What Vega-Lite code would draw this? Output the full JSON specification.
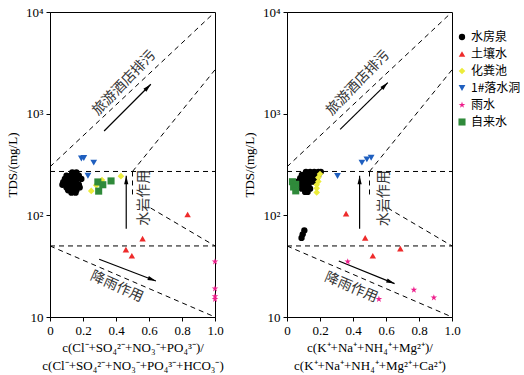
{
  "$schema": "https://vega.github.io/schema/vega-lite/v6.json",
  "padding": 5,
  "background": "white",
  "datasets": {
    "pts": [
      {"p": "L", "t": "水房泉", "x": 0.135, "y": 265}, {"p": "L", "t": "水房泉", "x": 0.16, "y": 265},
      {"p": "L", "t": "水房泉", "x": 0.10, "y": 245}, {"p": "L", "t": "水房泉", "x": 0.125, "y": 245}, {"p": "L", "t": "水房泉", "x": 0.15, "y": 245}, {"p": "L", "t": "水房泉", "x": 0.175, "y": 245},
      {"p": "L", "t": "水房泉", "x": 0.09, "y": 228}, {"p": "L", "t": "水房泉", "x": 0.115, "y": 228}, {"p": "L", "t": "水房泉", "x": 0.14, "y": 228}, {"p": "L", "t": "水房泉", "x": 0.165, "y": 228}, {"p": "L", "t": "水房泉", "x": 0.19, "y": 228},
      {"p": "L", "t": "水房泉", "x": 0.08, "y": 212}, {"p": "L", "t": "水房泉", "x": 0.105, "y": 212}, {"p": "L", "t": "水房泉", "x": 0.13, "y": 212}, {"p": "L", "t": "水房泉", "x": 0.155, "y": 212},
      {"p": "L", "t": "水房泉", "x": 0.075, "y": 200}, {"p": "L", "t": "水房泉", "x": 0.10, "y": 200}, {"p": "L", "t": "水房泉", "x": 0.125, "y": 200}, {"p": "L", "t": "水房泉", "x": 0.15, "y": 200}, {"p": "L", "t": "水房泉", "x": 0.175, "y": 200},
      {"p": "L", "t": "水房泉", "x": 0.10, "y": 188}, {"p": "L", "t": "水房泉", "x": 0.125, "y": 188}, {"p": "L", "t": "水房泉", "x": 0.15, "y": 188}, {"p": "L", "t": "水房泉", "x": 0.18, "y": 188},
      {"p": "L", "t": "水房泉", "x": 0.11, "y": 176}, {"p": "L", "t": "水房泉", "x": 0.135, "y": 176}, {"p": "L", "t": "水房泉", "x": 0.16, "y": 176},
      {"p": "L", "t": "水房泉", "x": 0.13, "y": 167}, {"p": "L", "t": "水房泉", "x": 0.155, "y": 167},
      {"p": "L", "t": "土壤水", "x": 0.834, "y": 102}, {"p": "L", "t": "土壤水", "x": 0.561, "y": 59}, {"p": "L", "t": "土壤水", "x": 0.46, "y": 46}, {"p": "L", "t": "土壤水", "x": 0.496, "y": 40},
      {"p": "L", "t": "化粪池", "x": 0.43, "y": 243}, {"p": "L", "t": "化粪池", "x": 0.315, "y": 222}, {"p": "L", "t": "化粪池", "x": 0.29, "y": 205}, {"p": "L", "t": "化粪池", "x": 0.28, "y": 198}, {"p": "L", "t": "化粪池", "x": 0.25, "y": 174},
      {"p": "L", "t": "1#落水洞", "x": 0.19, "y": 362}, {"p": "L", "t": "1#落水洞", "x": 0.205, "y": 366}, {"p": "L", "t": "1#落水洞", "x": 0.265, "y": 330}, {"p": "L", "t": "1#落水洞", "x": 0.23, "y": 245},
      {"p": "L", "t": "雨水", "x": 1.0, "y": 35}, {"p": "L", "t": "雨水", "x": 1.0, "y": 19}, {"p": "L", "t": "雨水", "x": 1.0, "y": 16}, {"p": "L", "t": "雨水", "x": 1.0, "y": 15},
      {"p": "L", "t": "自来水", "x": 0.29, "y": 213}, {"p": "L", "t": "自来水", "x": 0.32, "y": 200}, {"p": "L", "t": "自来水", "x": 0.37, "y": 218}, {"p": "L", "t": "自来水", "x": 0.295, "y": 173},
      {"p": "R", "t": "水房泉", "x": 0.115, "y": 268}, {"p": "R", "t": "水房泉", "x": 0.14, "y": 268}, {"p": "R", "t": "水房泉", "x": 0.165, "y": 268}, {"p": "R", "t": "水房泉", "x": 0.19, "y": 268}, {"p": "R", "t": "水房泉", "x": 0.205, "y": 268},
      {"p": "R", "t": "水房泉", "x": 0.09, "y": 250}, {"p": "R", "t": "水房泉", "x": 0.115, "y": 250}, {"p": "R", "t": "水房泉", "x": 0.14, "y": 250}, {"p": "R", "t": "水房泉", "x": 0.165, "y": 250}, {"p": "R", "t": "水房泉", "x": 0.19, "y": 250},
      {"p": "R", "t": "水房泉", "x": 0.08, "y": 232}, {"p": "R", "t": "水房泉", "x": 0.105, "y": 232}, {"p": "R", "t": "水房泉", "x": 0.13, "y": 232}, {"p": "R", "t": "水房泉", "x": 0.155, "y": 232}, {"p": "R", "t": "水房泉", "x": 0.18, "y": 232},
      {"p": "R", "t": "水房泉", "x": 0.065, "y": 214}, {"p": "R", "t": "水房泉", "x": 0.09, "y": 214}, {"p": "R", "t": "水房泉", "x": 0.115, "y": 214}, {"p": "R", "t": "水房泉", "x": 0.14, "y": 214}, {"p": "R", "t": "水房泉", "x": 0.16, "y": 214},
      {"p": "R", "t": "水房泉", "x": 0.08, "y": 197}, {"p": "R", "t": "水房泉", "x": 0.105, "y": 197}, {"p": "R", "t": "水房泉", "x": 0.13, "y": 197},
      {"p": "R", "t": "水房泉", "x": 0.09, "y": 183}, {"p": "R", "t": "水房泉", "x": 0.115, "y": 183}, {"p": "R", "t": "水房泉", "x": 0.14, "y": 183},
      {"p": "R", "t": "水房泉", "x": 0.11, "y": 170}, {"p": "R", "t": "水房泉", "x": 0.125, "y": 170},
      {"p": "R", "t": "水房泉", "x": 0.105, "y": 71}, {"p": "R", "t": "水房泉", "x": 0.095, "y": 65}, {"p": "R", "t": "水房泉", "x": 0.088, "y": 60},
      {"p": "R", "t": "土壤水", "x": 0.358, "y": 104}, {"p": "R", "t": "土壤水", "x": 0.474, "y": 60}, {"p": "R", "t": "土壤水", "x": 0.52, "y": 40}, {"p": "R", "t": "土壤水", "x": 0.687, "y": 47},
      {"p": "R", "t": "化粪池", "x": 0.2, "y": 255}, {"p": "R", "t": "化粪池", "x": 0.19, "y": 235}, {"p": "R", "t": "化粪池", "x": 0.19, "y": 215}, {"p": "R", "t": "化粪池", "x": 0.18, "y": 200}, {"p": "R", "t": "化粪池", "x": 0.18, "y": 185}, {"p": "R", "t": "化粪池", "x": 0.18, "y": 168},
      {"p": "R", "t": "1#落水洞", "x": 0.306, "y": 244}, {"p": "R", "t": "1#落水洞", "x": 0.454, "y": 330}, {"p": "R", "t": "1#落水洞", "x": 0.484, "y": 355}, {"p": "R", "t": "1#落水洞", "x": 0.51, "y": 368},
      {"p": "R", "t": "雨水", "x": 0.368, "y": 35}, {"p": "R", "t": "雨水", "x": 0.557, "y": 15}, {"p": "R", "t": "雨水", "x": 0.769, "y": 18.5}, {"p": "R", "t": "雨水", "x": 0.89, "y": 15.5},
      {"p": "R", "t": "自来水", "x": 0.033, "y": 214}, {"p": "R", "t": "自来水", "x": 0.053, "y": 202}, {"p": "R", "t": "自来水", "x": 0.04, "y": 190}, {"p": "R", "t": "自来水", "x": 0.053, "y": 174}
    ],
    "lines": [
      {"s": "A", "x": 0, "y": 300}, {"s": "A", "x": 1, "y": 10000},
      {"s": "B", "x": 0.5, "y": 270}, {"s": "B", "x": 1, "y": 2700},
      {"s": "H1", "x": 0, "y": 270}, {"s": "H1", "x": 1, "y": 270},
      {"s": "H2", "x": 0, "y": 50}, {"s": "H2", "x": 1, "y": 50},
      {"s": "V", "x": 0.5, "y": 270}, {"s": "V", "x": 0.5, "y": 150},
      {"s": "D", "x": 0.61, "y": 118}, {"s": "D", "x": 1, "y": 50},
      {"s": "L", "x": 0, "y": 50}, {"s": "L", "x": 1, "y": 10}
    ],
    "arrows": [
      {"p": "L", "a": "a1", "x": 0.328, "y": 676}, {"p": "L", "a": "a1", "x": 0.611, "y": 1946},
      {"p": "L", "a": "a2", "x": 0.462, "y": 74}, {"p": "L", "a": "a2", "x": 0.462, "y": 245},
      {"p": "L", "a": "a3", "x": 0.298, "y": 37}, {"p": "L", "a": "a3", "x": 0.642, "y": 22.6},
      {"p": "R", "a": "a1", "x": 0.322, "y": 700}, {"p": "R", "a": "a1", "x": 0.611, "y": 2020},
      {"p": "R", "a": "a2", "x": 0.44, "y": 74}, {"p": "R", "a": "a2", "x": 0.44, "y": 245},
      {"p": "R", "a": "a3", "x": 0.314, "y": 35.6}, {"p": "R", "a": "a3", "x": 0.652, "y": 21.3}
    ],
    "heads": [
      {"p": "L", "x": 0.611, "y": 1946, "ang": 45}, {"p": "L", "x": 0.462, "y": 245, "ang": 0}, {"p": "L", "x": 0.642, "y": 22.6, "ang": 111},
      {"p": "R", "x": 0.611, "y": 2020, "ang": 45}, {"p": "R", "x": 0.44, "y": 245, "ang": 0}, {"p": "R", "x": 0.652, "y": 21.3, "ang": 112}
    ],
    "labels": [
      {"p": "L", "txt": "旅游酒店排污", "x": 0.45, "y": 2000, "ang": -46},
      {"p": "L", "txt": "水岩作用", "x": 0.568, "y": 149, "ang": -90},
      {"p": "L", "txt": "降雨作用", "x": 0.405, "y": 19.8, "ang": 24},
      {"p": "R", "txt": "旅游酒店排污", "x": 0.43, "y": 2000, "ang": -46},
      {"p": "R", "txt": "水岩作用", "x": 0.586, "y": 147, "ang": -90},
      {"p": "R", "txt": "降雨作用", "x": 0.389, "y": 19.5, "ang": 23}
    ]
  },
  "hconcat": [
    {
      "width": 165, "height": 305,
      "encoding": {
        "x": {"field": "x", "type": "quantitative", "scale": {"domain": [0, 1], "nice": false},
          "axis": {"values": [0, 0.2, 0.4, 0.6, 0.8, 1], "labelOverlap": false, "labelFlush": false, "format": ".1f", "labelExpr": "datum.label == '0.0' ? '0' : datum.label", "title": ["c(Cl⁻+SO₄²⁻+NO₃⁻+PO₄³⁻)/", "c(Cl⁻+SO₄²⁻+NO₃⁻+PO₄³⁻+HCO₃⁻)"]}},
        "y": {"field": "y", "type": "quantitative", "scale": {"type": "log", "domain": [10, 10000], "nice": false},
          "axis": {"values": [10, 100, 1000, 10000], "labelOverlap": false, "labelExpr": "datum.value == 10 ? '10' : datum.value == 100 ? '10²' : datum.value == 1000 ? '10³' : '10⁴'", "title": "TDS/(mg/L)"}}
      },
      "layer": [
        {"data": {"name": "lines"}, "mark": {"type": "line", "color": "black", "strokeWidth": 1, "strokeDash": [5, 4], "clip": true},
         "encoding": {"detail": {"field": "s"}}},
        {"data": {"name": "arrows"}, "transform": [{"filter": "datum.p == 'L'"}], "mark": {"type": "line", "color": "black", "strokeWidth": 1.2},
         "encoding": {"detail": {"field": "a"}}},
        {"data": {"name": "heads"}, "transform": [{"filter": "datum.p == 'L'"}], "mark": {"type": "point", "filled": true, "color": "black", "size": 70, "shape": "M0,0L0.5,2L-0.5,2Z", "opacity": 1},
         "encoding": {"angle": {"field": "ang", "type": "quantitative", "scale": null}}},
        {"data": {"name": "labels"}, "transform": [{"filter": "datum.p == 'L'"}], "mark": {"type": "text", "font": "Noto Sans CJK SC", "fontSize": 14, "color": "#333"},
         "encoding": {"text": {"field": "txt"}, "angle": {"field": "ang", "type": "quantitative", "scale": null}}},
        {"data": {"name": "pts"}, "transform": [{"filter": "datum.p == 'L'"}], "mark": {"type": "point", "filled": true, "opacity": 1, "clip": false},
         "encoding": {
           "color": {"field": "t", "type": "nominal", "scale": {"domain": ["水房泉", "土壤水", "化粪池", "1#落水洞", "雨水", "自来水"], "range": ["#000000", "#ee2b2b", "#ecec3a", "#1f5fbf", "#ee1f8c", "#2f8a3a"]}, "legend": {"title": null}},
           "size": {"field": "t", "type": "nominal", "scale": {"domain": ["水房泉", "土壤水", "化粪池", "1#落水洞", "雨水", "自来水"], "range": [40, 50, 45, 50, 75, 40]}, "legend": null},
           "shape": {"field": "t", "type": "nominal", "scale": {"domain": ["水房泉", "土壤水", "化粪池", "1#落水洞", "雨水", "自来水"], "range": ["circle", "triangle-up", "diamond", "triangle-down", "M0,-1L0.2245,-0.309L0.951,-0.309L0.363,0.118L0.588,0.809L0,0.382L-0.588,0.809L-0.363,0.118L-0.951,-0.309L-0.2245,-0.309Z", "square"]}, "legend": {"title": null}}}}
      ]
    },
    {
      "width": 165, "height": 305,
      "encoding": {
        "x": {"field": "x", "type": "quantitative", "scale": {"domain": [0, 1], "nice": false},
          "axis": {"tickCount": 5, "labelOverlap": false, "labelFlush": false, "format": ".1f", "labelExpr": "datum.label == '0.0' ? '0' : datum.label", "title": ["c(K⁺+Na⁺+NH₄⁺+Mg²⁺)/", "c(K⁺+Na⁺+NH₄⁺+Mg²⁺+Ca²⁺)"]}},
        "y": {"field": "y", "type": "quantitative", "scale": {"type": "log", "domain": [10, 10000], "nice": false},
          "axis": {"values": [10, 100, 1000, 10000], "labelOverlap": false, "labelExpr": "datum.value == 10 ? '10' : datum.value == 100 ? '10²' : datum.value == 1000 ? '10³' : '10⁴'", "title": "TDS/(mg/L)"}}
      },
      "layer": [
        {"data": {"name": "lines"}, "mark": {"type": "line", "color": "black", "strokeWidth": 1, "strokeDash": [5, 4], "clip": true},
         "encoding": {"detail": {"field": "s"}}},
        {"data": {"name": "arrows"}, "transform": [{"filter": "datum.p == 'R'"}], "mark": {"type": "line", "color": "black", "strokeWidth": 1.2},
         "encoding": {"detail": {"field": "a"}}},
        {"data": {"name": "heads"}, "transform": [{"filter": "datum.p == 'R'"}], "mark": {"type": "point", "filled": true, "color": "black", "size": 70, "shape": "M0,0L0.5,2L-0.5,2Z", "opacity": 1},
         "encoding": {"angle": {"field": "ang", "type": "quantitative", "scale": null}}},
        {"data": {"name": "labels"}, "transform": [{"filter": "datum.p == 'R'"}], "mark": {"type": "text", "font": "Noto Sans CJK SC", "fontSize": 14, "color": "#333"},
         "encoding": {"text": {"field": "txt"}, "angle": {"field": "ang", "type": "quantitative", "scale": null}}},
        {"data": {"name": "pts"}, "transform": [{"filter": "datum.p == 'R'"}], "mark": {"type": "point", "filled": true, "opacity": 1, "clip": false},
         "encoding": {
           "color": {"field": "t", "type": "nominal", "scale": {"domain": ["水房泉", "土壤水", "化粪池", "1#落水洞", "雨水", "自来水"], "range": ["#000000", "#ee2b2b", "#ecec3a", "#1f5fbf", "#ee1f8c", "#2f8a3a"]}, "legend": {"title": null}},
           "size": {"field": "t", "type": "nominal", "scale": {"domain": ["水房泉", "土壤水", "化粪池", "1#落水洞", "雨水", "自来水"], "range": [40, 50, 45, 50, 75, 40]}, "legend": null},
           "shape": {"field": "t", "type": "nominal", "scale": {"domain": ["水房泉", "土壤水", "化粪池", "1#落水洞", "雨水", "自来水"], "range": ["circle", "triangle-up", "diamond", "triangle-down", "M0,-1L0.2245,-0.309L0.951,-0.309L0.363,0.118L0.588,0.809L0,0.382L-0.588,0.809L-0.363,0.118L-0.951,-0.309L-0.2245,-0.309Z", "square"]}, "legend": {"title": null}}}}
      ]
    }
  ],
  "spacing": 72,
  "bounds": "flush",
  "config": {
    "view": {"stroke": "black", "strokeWidth": 1},
    "axis": {"grid": false, "domainColor": "black", "tickColor": "black", "tickSize": 4, "labelColor": "black", "titleColor": "black",
      "labelFont": "Liberation Serif", "labelFontSize": 13, "titleFont": "Liberation Serif", "titleFontSize": 13, "titleFontWeight": "normal", "titleLineHeight": 18},
    "axisY": {"titlePadding": 6, "labelPadding": 3},
    "axisX": {"titlePadding": 4, "labelPadding": 3},
    "legend": {"orient": "none", "legendX": 406, "legendY": 19, "labelFont": "Noto Sans CJK SC", "labelFontSize": 12, "labelColor": "black", "rowPadding": 5, "labelOffset": 3, "symbolStrokeWidth": 0, "symbolSize": 36}
  }
}
